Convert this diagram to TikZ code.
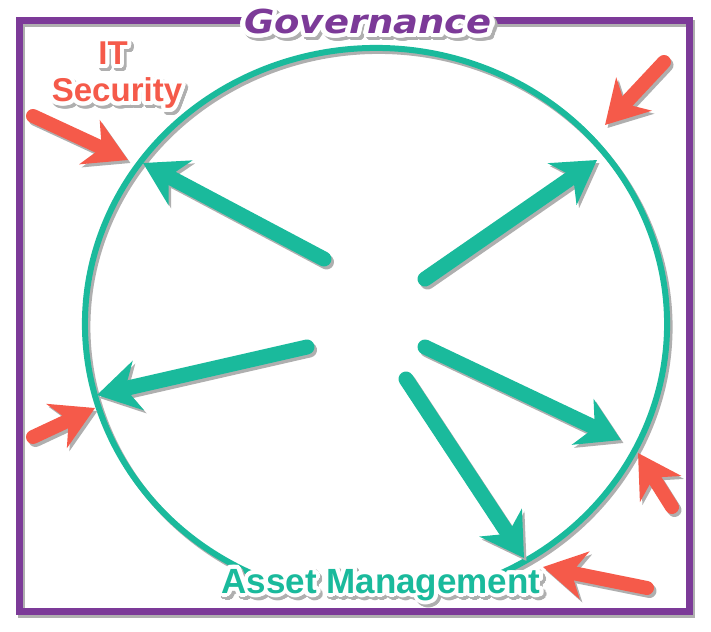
\documentclass[tikz,border=0pt]{standalone}
\usepackage{fontspec}
\usepackage{contour}
\usetikzlibrary{arrows.meta}
\setmainfont{Liberation Sans}
\newfontfamily\govfont{DejaVu Sans}
\definecolor{tealc}{RGB}{26,186,156}
\definecolor{purplec}{RGB}{124,58,152}
\definecolor{redc}{RGB}{245,90,74}
\definecolor{shadowc}{RGB}{175,175,175}
\contourlength{4pt}
\contournumber{32}
% text with a white outline and a grey drop shadow
\newcommand\fancytext[2]{\rlap{\hspace{2.5pt}\raisebox{-3pt}{\color{shadowc}\contour{shadowc}{#2}}}{\color{#1}\contour{white}{#2}}}
\tikzset{
  frame/.style={draw=purplec, line width=7pt},
  ring/.style={draw=tealc, line width=6pt},
  tealarrow/.style={color=tealc, line width=15pt, line cap=round,
    -{Stealth[length=42pt,width=50pt,inset=13pt]}},
  redarrow/.style={color=redc, line width=14pt, line cap=round,
    -{Stealth[length=42pt,width=48pt,inset=13pt]}},
  shadowed/.style={color=shadowc, transform canvas={shift={(2.5,3)}}},
  label/.style={inner sep=0pt, anchor=base}
}
\newcommand\sarrow[3]{%
  \draw[#1, shadowed] (#2) -- (#3);
  \draw[#1] (#2) -- (#3);}
\begin{document}
\begin{tikzpicture}[x=1pt,y=-1pt]
\useasboundingbox (0,0) rectangle (711,631);
% frame
\draw[frame, shadowed] (19,21) rectangle (689,611);
\draw[frame] (19,21) rectangle (689,611);
% ring (its bottom is hidden behind the label)
\coordinate (ringc) at (376,324);
\draw[ring, shadowed] (ringc) ++(112:291 and 276) arc [start angle=112, end angle=428, x radius=291, y radius=276];
\draw[ring] (ringc) ++(112:291 and 276) arc [start angle=112, end angle=428, x radius=291, y radius=276];
% teal arrows
\coordinate (c1) at (324,259); \coordinate (t1) at (143,163);
\coordinate (c2) at (425,279); \coordinate (t2) at (597,160);
\coordinate (c3) at (307,347); \coordinate (t3) at (97,395);
\coordinate (c4) at (425,347); \coordinate (t4) at (621,440);
\coordinate (c5) at (406,379); \coordinate (t5) at (524,558);
\sarrow{tealarrow}{c1}{t1}
\sarrow{tealarrow}{c2}{t2}
\sarrow{tealarrow}{c3}{t3}
\sarrow{tealarrow}{c4}{t4}
\sarrow{tealarrow}{c5}{t5}
% red arrows
\coordinate (r1) at (33,116); \coordinate (q1) at (128,160);
\coordinate (r2) at (664,62); \coordinate (q2) at (605,125);
\coordinate (r3) at (33,437); \coordinate (q3) at (95,408);
\coordinate (r4) at (672,507); \coordinate (q4) at (638,453);
\coordinate (r5) at (647,588); \coordinate (q5) at (543,567);
\sarrow{redarrow}{r1}{q1}
\sarrow{redarrow}{r2}{q2}
\sarrow{redarrow}{r3}{q3}
\sarrow{redarrow}{r4}{q4}
\sarrow{redarrow}{r5}{q5}
% labels
\node[label] (gov) at (368,34) {\govfont\bfseries\itshape\fontsize{33}{33}\selectfont\scalebox{1.12}[1]{\fancytext{purplec}{Governance}}};
\node[label] (it) at (113,65) {\bfseries\fontsize{33}{33}\selectfont\fancytext{redc}{IT}};
\node[label] (sec) at (117,102) {\bfseries\fontsize{33}{33}\selectfont\fancytext{redc}{Security}};
\node[label] (asset) at (381,593) {\bfseries\fontsize{35}{35}\selectfont\fancytext{tealc}{Asset Management}};
\end{tikzpicture}
\end{document}
